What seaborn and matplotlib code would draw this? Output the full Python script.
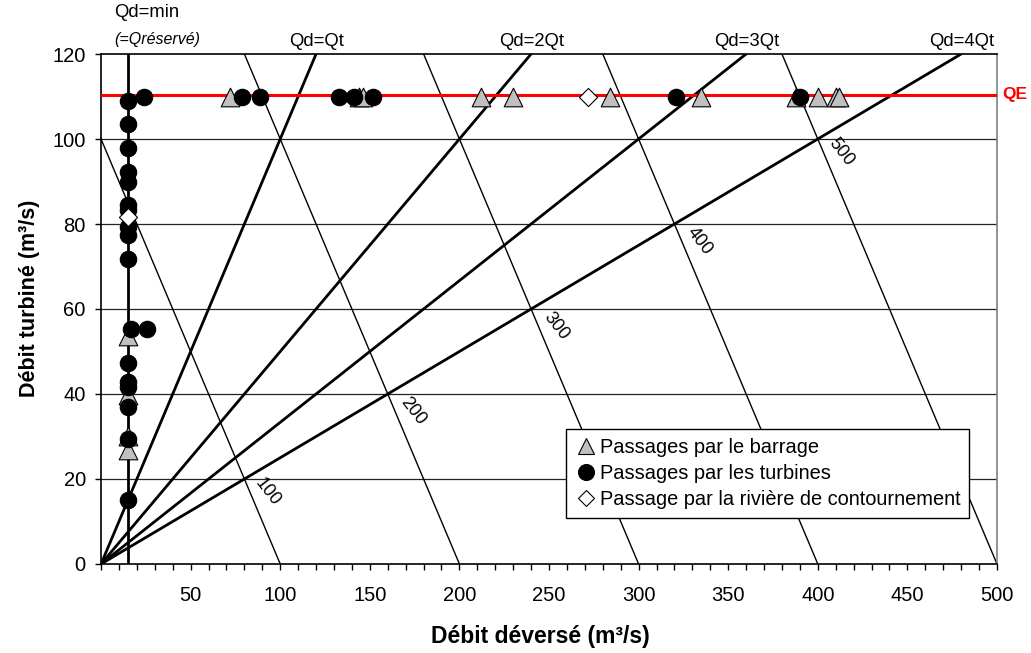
import numpy as np
import pandas as pd
import matplotlib
matplotlib.use("Agg")
import matplotlib.pyplot as plt
import seaborn as sns
from matplotlib.lines import Line2D

# ---- data -------------------------------------------------------------
Q_RESERVE = 15          # minimum (reserved) spill flow, m3/s
QE = 110.4              # equipment flow of the plant, m3/s
ratios = [1, 2, 3, 4]   # Qd = k * Qt reference lines
iso_totals = [100, 200, 300, 400, 500]   # total flow Qd + Qt
iso_label_y = [17, 36, 56, 76, 97]

barrage_x = [15, 15, 15, 15, 72, 144, 146, 212, 230, 284, 335, 388, 400, 410, 412]
barrage_y = [53.6, 39.8, 30.0, 26.8, 110, 110, 110, 110, 110, 110, 110, 110, 110, 110, 110]

turbines_x = [15, 15, 15, 15, 15, 15, 15, 15, 15, 15, 15, 15, 15, 15, 15, 15,
              17, 25.5, 24, 78.5, 88.5, 133, 141, 152, 321, 390]
turbines_y = [108.9, 103.5, 97.8, 92.2, 90.0, 84.5, 83.3, 79.3, 77.3, 71.8,
              47.2, 42.9, 41.7, 36.9, 29.3, 15.1,
              55.4, 55.4, 110, 110, 110, 110, 110, 110, 110, 110]

contournement_x = [15, 272]
contournement_y = [81.7, 110]

labels = ["Passages par le barrage",
          "Passages par les turbines",
          "Passage par la rivière de contournement"]

x_ticks = [50, 100, 150, 200, 250, 300, 350, 400, 450, 500]
y_ticks = [0, 20, 40, 60, 80, 100, 120]

# ---- figure -----------------------------------------------------------
sns.set_theme(style="white")
plt.rcParams["font.family"] = ["Liberation Sans", "DejaVu Sans"]
plt.rcParams["text.color"] = "black"
plt.rcParams["axes.labelcolor"] = "black"
plt.rcParams["xtick.color"] = "black"
plt.rcParams["ytick.color"] = "black"

fig = plt.figure(figsize=(10.31, 6.53), dpi=100)
ax = fig.add_axes([0.098, 0.1363, 0.869, 0.781])

XMAX, YMAX = 500, 120

# horizontal grid
for yv in y_ticks[1:-1]:
    ax.axhline(yv, color="#222222", lw=0.9, zorder=1)

# iso-total lines Qd + Qt = T
for T, ly in zip(iso_totals, iso_label_y):
    seg = pd.DataFrame({"x": [T, T - YMAX], "y": [0, YMAX]})
    sns.lineplot(data=seg, x="x", y="y", ax=ax, color="black", lw=1.0,
                 estimator=None, sort=False, zorder=2)
    ax.text(T - ly + 10, ly, str(T), rotation=-52, ha="center", va="center",
            fontsize=13, zorder=3)

# ratio lines Qd = k Qt
for k in ratios:
    seg = pd.DataFrame({"x": [0, YMAX * k], "y": [0, YMAX]})
    sns.lineplot(data=seg, x="x", y="y", ax=ax, color="black", lw=2.0,
                 estimator=None, sort=False, zorder=2)
    txt = "Qd=Qt" if k == 1 else f"Qd={k}Qt"
    ax.text(YMAX * k + 0.5, 1.025, txt, transform=ax.get_xaxis_transform(),
            ha="center", va="center", fontsize=13.3, clip_on=False)

# minimum spill line
vline = pd.DataFrame({"x": [Q_RESERVE, Q_RESERVE], "y": [0, YMAX]})
sns.lineplot(data=vline, x="x", y="y", ax=ax, color="black", lw=2.0,
             estimator=None, sort=False, zorder=2)
ax.text(7.2, 1.082, "Qd=min", transform=ax.get_xaxis_transform(),
        ha="left", va="center", fontsize=13.3, clip_on=False)
ax.text(7.2, 1.028, "(=Qréservé)", transform=ax.get_xaxis_transform(),
        ha="left", va="center", fontsize=11.5, style="italic", clip_on=False)

# equipment flow
ax.axhline(QE, color="#ff0000", lw=2.2, zorder=3)
ax.text(XMAX + 10, QE, "QE", color="#ff0000", fontsize=12.5, fontweight="bold",
        ha="center", va="center", clip_on=False)

# observations
sns.scatterplot(x=barrage_x, y=barrage_y, ax=ax, marker="^", s=180,
                color="#c0c0c0", edgecolor="black", linewidth=0.8, zorder=4)
sns.scatterplot(x=turbines_x, y=turbines_y, ax=ax, marker="o", s=140,
                color="black", edgecolor="black", linewidth=0.8, zorder=5)
sns.scatterplot(x=contournement_x, y=contournement_y, ax=ax, marker="D", s=85,
                color="white", edgecolor="black", linewidth=0.8, zorder=6)

# axes
ax.set_xlim(0, XMAX)
ax.set_ylim(0, YMAX)
ax.set_xticks(x_ticks)
ax.set_xticks(np.arange(0, XMAX + 1, 10), minor=True)
ax.set_yticks(y_ticks)
ax.tick_params(axis="x", which="both", direction="out", length=4, width=1,
               color="black", bottom=True, pad=12, labelsize=14.5)
ax.tick_params(axis="y", which="major", direction="out", length=4, width=1,
               color="black", left=True, pad=7, labelsize=14.5)
for side in ["left", "bottom", "top"]:
    ax.spines[side].set_color("black")
    ax.spines[side].set_linewidth(1.2)
ax.spines["right"].set_color("#808080")
ax.spines["right"].set_linewidth(1.2)

ax.set_xlabel("Débit déversé (m³/s)", fontsize=16.5, fontweight="bold")
ax.set_ylabel("Débit turbiné (m³/s)", fontsize=15.5, fontweight="bold")
ax.xaxis.set_label_coords(0.49, -0.119)
ax.yaxis.set_label_coords(-0.068, 0.52)

handles = [
    Line2D([], [], ls="", marker="^", ms=11.5, mfc="#c0c0c0", mec="black", mew=0.8),
    Line2D([], [], ls="", marker="o", ms=11.5, mfc="black", mec="black", mew=0.8),
    Line2D([], [], ls="", marker="D", ms=8.5, mfc="white", mec="black", mew=0.8),
]
leg = ax.legend(handles, labels, loc="lower right", bbox_to_anchor=(0.969, 0.09),
                fontsize=14.4, frameon=True, fancybox=False, edgecolor="black",
                framealpha=1, handlelength=1.1, handletextpad=0.15,
                labelspacing=0.35, borderpad=0.45, borderaxespad=0)
leg.get_frame().set_linewidth(1.0)
leg.set_zorder(10)

fig.savefig("out.png", dpi=100)
